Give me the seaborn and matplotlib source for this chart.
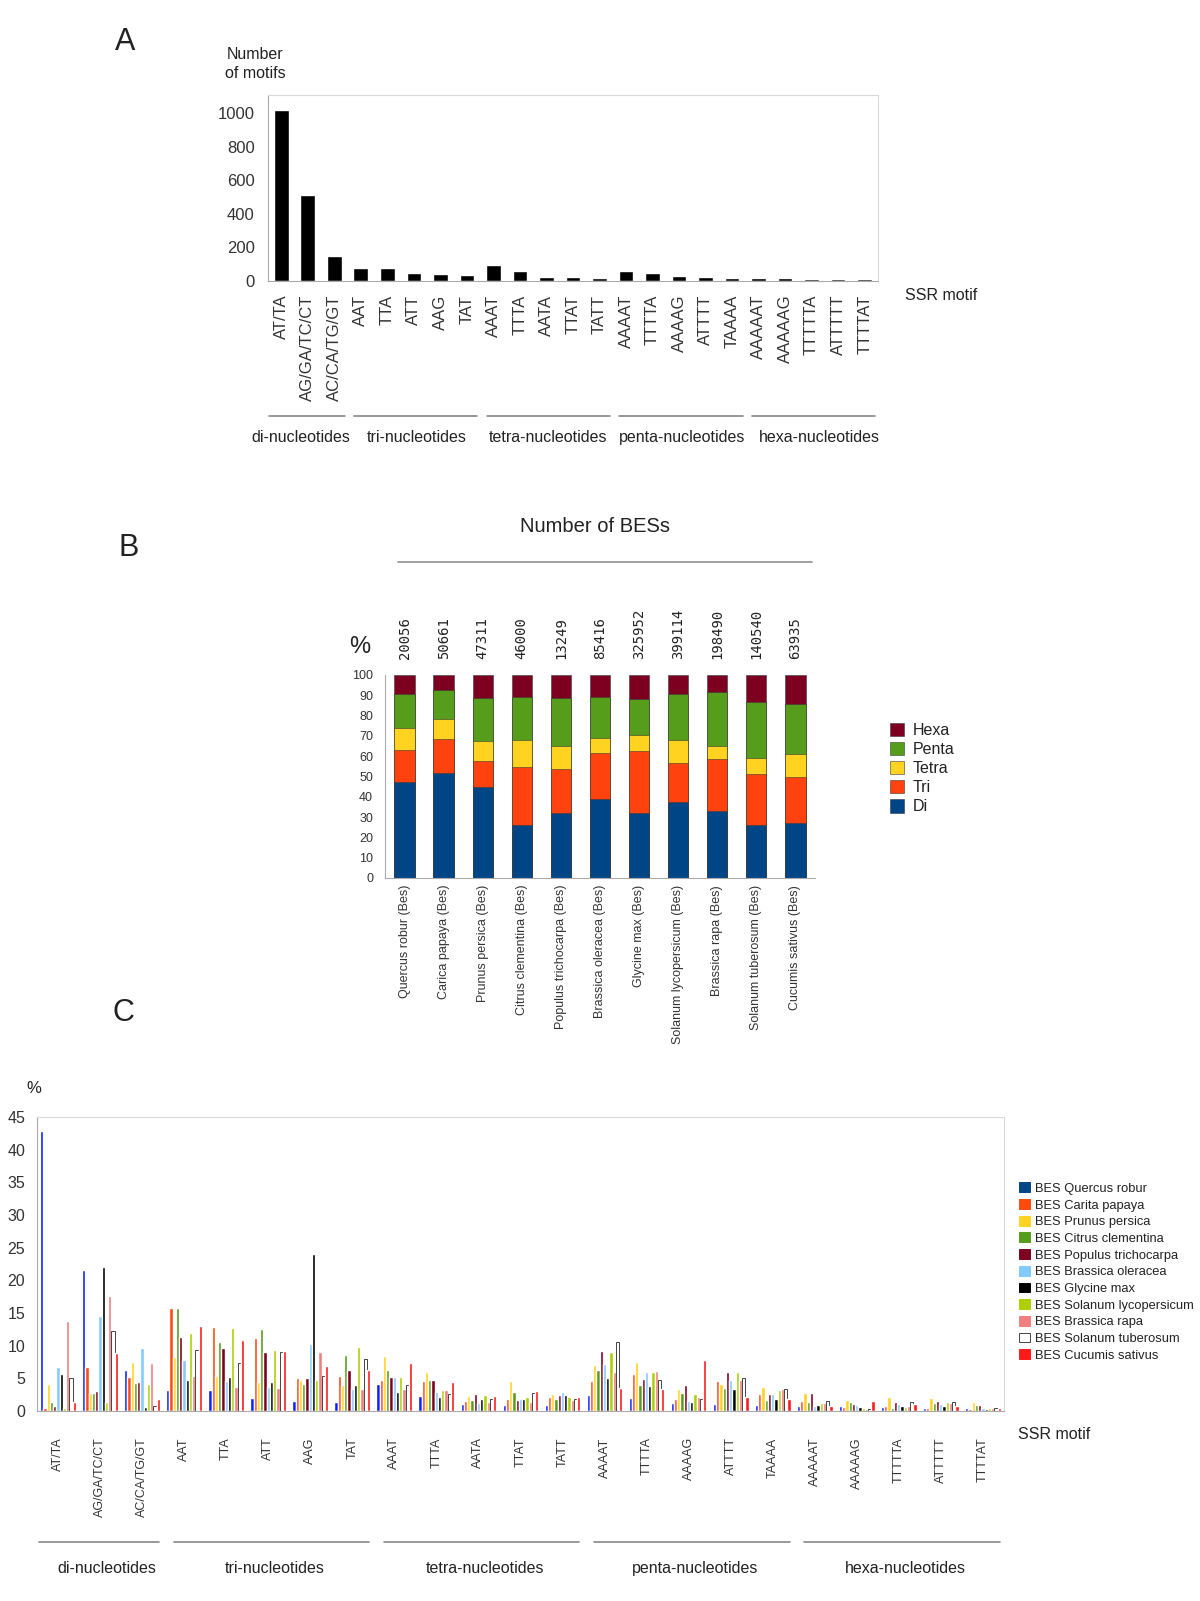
import matplotlib
matplotlib.use("Agg")
import matplotlib.pyplot as plt
import matplotlib.transforms as mtransforms
from matplotlib.patches import Patch
from matplotlib.lines import Line2D
import numpy as np
import pandas as pd
import seaborn as sns

# ---- data ----
motifs = ["AT/TA", "AG/GA/TC/CT", "AC/CA/TG/GT", "AAT", "TTA", "ATT", "AAG", "TAT",
          "AAAT", "TTTA", "AATA", "TTAT", "TATT", "AAAAT", "TTTTA", "AAAAG", "ATTTT",
          "TAAAA", "AAAAAT", "AAAAAG", "TTTTTA", "ATTTTT", "TTTTAT"]
n_motifs = [1016, 513, 148, 77, 75, 49, 39, 34, 97, 57, 24, 22, 20, 59, 49, 30, 24,
            20, 20, 18, 14, 10, 12]
group_names = ["di-nucleotides", "tri-nucleotides", "tetra-nucleotides",
               "penta-nucleotides", "hexa-nucleotides"]
group_sizes = [3, 5, 5, 5, 5]

species_b = ["Quercus robur (Bes)", "Carica papaya (Bes)", "Prunus persica (Bes)",
             "Citrus clementina (Bes)", "Populus trichocarpa (Bes)", "Brassica oleracea (Bes)",
             "Glycine max (Bes)", "Solanum lycopersicum (Bes)", "Brassica rapa (Bes)",
             "Solanum tuberosum (Bes)", "Cucumis sativus (Bes)"]
n_bes = [20056, 50661, 47311, 46000, 13249, 85416, 325952, 399114, 198490, 140540, 63935]
di = [47.2, 51.5, 44.8, 26.1, 31.8, 38.7, 32.1, 37.5, 33.1, 26.1, 26.9]
tri = [15.9, 17.0, 12.7, 28.7, 22.1, 22.9, 30.4, 19.1, 25.3, 25.2, 22.8]
tetra = [11.0, 9.9, 9.9, 13.1, 10.9, 7.3, 7.8, 11.3, 6.8, 7.7, 11.6]
penta = [16.6, 14.4, 21.1, 21.4, 24.1, 20.4, 17.9, 22.6, 26.6, 27.9, 24.6]
hexa = [9.3, 7.2, 11.5, 10.7, 11.1, 10.7, 11.8, 9.5, 8.2, 13.1, 14.1]
class_names = ["Di", "Tri", "Tetra", "Penta", "Hexa"]
class_colors = ["#004586", "#ff420e", "#ffd320", "#579d1c", "#7e0021"]

series_c = ["BES Quercus robur", "BES Carita papaya", "BES Prunus persica",
            "BES Citrus clementina", "BES Populus trichocarpa", "BES Brassica oleracea",
            "BES Glycine max", "BES Solanum lycopersicum", "BES Brassica rapa",
            "BES Solanum tuberosum", "BES Cucumis sativus"]
quercus = [42.8, 21.6, 6.2, 3.2, 3.2, 2.0, 1.5, 1.4, 4.1, 2.3, 1.0, 0.9, 0.9, 2.4, 2.0, 1.2, 1.0, 0.9, 0.8, 0.7, 0.6, 0.5, 0.5]
carica = [0.5, 6.7, 5.2, 15.8, 12.8, 11.1, 5.1, 5.4, 4.8, 4.6, 1.5, 1.8, 2.1, 4.6, 5.7, 1.9, 4.6, 2.6, 1.6, 0.6, 0.8, 0.5, 0.3]
prunus = [4.1, 2.7, 7.5, 8.2, 5.4, 4.5, 4.7, 4.0, 8.4, 6.0, 2.3, 4.6, 2.6, 7.1, 7.5, 3.3, 4.2, 3.6, 2.7, 1.7, 2.2, 2.0, 1.4]
citrus = [1.4, 2.7, 4.3, 15.8, 10.6, 12.5, 4.1, 8.5, 6.3, 4.8, 1.7, 2.9, 1.9, 6.2, 4.0, 2.8, 3.5, 1.7, 1.4, 1.4, 0.5, 1.2, 0.9]
populus = [0.8, 3.1, 4.5, 11.3, 9.6, 9.1, 5.0, 6.2, 5.2, 4.8, 2.6, 1.7, 2.4, 9.2, 4.9, 4.0, 6.0, 2.6, 2.8, 1.1, 1.3, 1.6, 0.9]
b_oleracea = [6.7, 14.5, 9.6, 7.8, 4.6, 3.7, 10.2, 3.4, 5.2, 2.9, 1.2, 1.9, 2.9, 7.2, 6.0, 1.6, 4.7, 2.6, 0.8, 0.9, 1.1, 1.0, 0.4]
glycine = [5.7, 22.0, 0.6, 4.7, 5.2, 4.4, 24.1, 4.0, 2.9, 2.1, 1.9, 1.9, 2.4, 5.1, 3.8, 1.4, 3.4, 1.9, 0.9, 0.6, 0.8, 0.7, 0.3]
s_lyco = [0.5, 1.4, 4.1, 11.9, 12.7, 9.4, 4.7, 9.8, 5.2, 3.2, 2.4, 2.2, 2.1, 9.0, 5.9, 2.6, 6.0, 3.2, 1.2, 0.5, 0.6, 1.4, 0.5]
b_rapa = [13.8, 17.6, 7.3, 5.4, 3.7, 3.5, 9.0, 3.4, 3.3, 3.2, 1.4, 1.4, 1.7, 6.0, 6.1, 2.2, 4.8, 3.3, 1.2, 0.3, 0.8, 1.2, 0.5]
s_tub = [5.1, 12.2, 0.8, 9.4, 7.3, 9.0, 5.4, 7.9, 4.0, 2.6, 1.9, 2.7, 1.8, 10.5, 4.8, 1.9, 5.1, 3.3, 1.6, 0.3, 1.4, 1.4, 0.5]
cucumis = [1.4, 8.9, 1.9, 13.0, 10.9, 9.2, 6.9, 6.3, 7.3, 4.4, 2.3, 3.1, 2.2, 3.5, 3.3, 7.8, 2.1, 1.9, 0.8, 1.6, 1.0, 0.8, 0.5]
bar_colors = ["#0a1fff", "#ff4a0e", "#ffd320", "#579d1c", "#7e0021", "#83caff",
              "#000000", "#aecf00", "#f08080", "#ffffff", "#ff1a1a"]
legend_colors = ["#004586"] + bar_colors[1:]

# ---- style ----
sns.set_style("white")
plt.rcParams["font.family"] = ["Liberation Sans", "DejaVu Sans"]
plt.rcParams["text.color"] = "#222222"
plt.rcParams["xtick.color"] = "#333333"
plt.rcParams["ytick.color"] = "#333333"

fig = plt.figure(figsize=(12, 16.01), dpi=100)
frame_col = "#d9d9d9"
axis_col = "#aaaaaa"


def group_marks(ax, y_line, y_text, fs, shift):
    tr = mtransforms.blended_transform_factory(ax.transData, fig.transFigure)
    start = 0
    for k, (name, size) in enumerate(zip(group_names, group_sizes)):
        end = start + size
        x0 = -0.45 if k == 0 else start - 0.25
        ax.add_line(Line2D([x0, end - 0.6], [y_line, y_line], transform=tr,
                           color="#888888", lw=1.2, clip_on=False))
        ax.text((start + end - 1) / 2 + shift[k], y_text, name, transform=tr,
                ha="center", va="center", fontsize=fs)
        start = end


def boundary_ticks(ax, n, length):
    ax.set_xticks(np.arange(-0.5, n, 1), minor=True)
    ax.tick_params(axis="x", which="minor", length=length, color=axis_col, width=1)
    ax.tick_params(axis="x", which="major", length=0)


# ---- panel A ----
axA = fig.add_axes([0.2233, 0.8245, 0.5083, 0.1162])
sns.barplot(x=motifs, y=n_motifs, color="black", width=0.55, saturation=1,
            errorbar=None, ax=axA)
axA.set_xlim(-0.5, len(motifs) - 0.5)
axA.set_ylim(0, 1107)
axA.set_yticks(range(0, 1001, 200))
axA.set_yticks(range(0, 1101, 100), minor=True)
axA.tick_params(axis="y", which="major", labelsize=12, length=6, color=axis_col)
axA.tick_params(axis="y", which="minor", length=4, color=axis_col)
axA.tick_params(axis="x", labelsize=12, rotation=90, pad=10)
boundary_ticks(axA, len(motifs), 7)
for s in axA.spines.values():
    s.set_color(frame_col)
axA.spines["left"].set_color(axis_col)
axA.spines["bottom"].set_color(axis_col)
axA.set_xlabel("")
axA.set_ylabel("")
group_marks(axA, 0.7402, 0.727, 11.5, [-0.25, 0.1, 0.05, 0.1, 0.3])
fig.text(0.104, 0.974, "A", fontsize=22, ha="center", va="center")
fig.text(0.2125, 0.960, "Number\nof motifs", fontsize=11.5, ha="center", va="center",
         linespacing=1.4)
fig.text(0.754, 0.8157, "SSR motif", fontsize=11.5, ha="left", va="center")

# ---- panel B ----
axB = fig.add_axes([0.3208, 0.4516, 0.3583, 0.1268])
layers = [di, tri, tetra, penta, hexa]
cum = np.cumsum(np.array(layers), axis=0)
for k in range(len(layers) - 1, -1, -1):
    sns.barplot(x=species_b, y=cum[k], color=class_colors[k], width=0.52, saturation=1,
                edgecolor="#3a3a3a", linewidth=0.4, errorbar=None, ax=axB)
axB.set_xlim(-0.5, len(species_b) - 0.5)
axB.set_ylim(0, 100)
axB.set_yticks(range(0, 101, 10))
axB.tick_params(axis="y", labelsize=9, length=5, color=axis_col)
axB.tick_params(axis="x", labelsize=9, rotation=90, pad=5)
boundary_ticks(axB, len(species_b), 6)
sns.despine(ax=axB)
axB.spines["left"].set_color(axis_col)
axB.spines["bottom"].set_color(axis_col)
axB.set_xlabel("")
axB.set_ylabel("")
for i, n in enumerate(n_bes):
    axB.text(i, 108, str(n), rotation=90, ha="center", va="bottom", fontsize=10,
             family="DejaVu Sans Mono", clip_on=False)
fig.text(0.107, 0.658, "B", fontsize=22, ha="center", va="center")
fig.text(0.30, 0.596, "%", fontsize=17, ha="center", va="center")
fig.text(0.496, 0.671, "Number of BESs", fontsize=14.5, ha="center", va="center")
fig.add_artist(Line2D([0.332, 0.677], [0.649, 0.649], transform=fig.transFigure,
                      color="#999999", lw=1.3))
handles_b = [Patch(facecolor=class_colors[k], edgecolor="#3a3a3a", linewidth=0.4,
                   label=class_names[k]) for k in range(4, -1, -1)]
fig.legend(handles=handles_b, loc="upper left", bbox_to_anchor=(0.735, 0.5535),
           frameon=False, fontsize=11.5, handlelength=0.9, handleheight=0.9,
           handletextpad=0.5, labelspacing=0.25, borderpad=0)

# ---- panel C ----
axC = fig.add_axes([0.0308, 0.1187, 0.8058, 0.1836])
series_values = [quercus, carica, prunus, citrus, populus, b_oleracea, glycine,
                 s_lyco, b_rapa, s_tub, cucumis]
dfc = pd.DataFrame({
    "motif": motifs * len(series_c),
    "series": [s for s in series_c for _ in motifs],
    "value": [v for vals in series_values for v in vals],
})
sns.barplot(data=dfc, x="motif", y="value", hue="series", hue_order=series_c,
            palette=bar_colors, width=0.85, saturation=1, errorbar=None,
            legend=False, ax=axC)
for bar in axC.containers[9]:
    bar.set_edgecolor("#444444")
    bar.set_linewidth(0.7)
axC.set_xlim(-0.5, len(motifs) - 0.5)
axC.set_ylim(0, 45)
axC.set_yticks(range(0, 46, 5))
axC.tick_params(axis="y", labelsize=11.5, length=5, color=axis_col)
axC.tick_params(axis="x", labelsize=9, rotation=90, pad=19)
boundary_ticks(axC, len(motifs), 6)
for s in axC.spines.values():
    s.set_color(frame_col)
axC.spines["left"].set_color(axis_col)
axC.spines["bottom"].set_color(axis_col)
axC.set_xlabel("")
axC.set_ylabel("")
group_marks(axC, 0.0368, 0.0206, 11.5, [0.15, 0.15, 0.15, 0.15, 0.15])
fig.text(0.1025, 0.367, "C", fontsize=22, ha="center", va="center")
fig.text(0.028, 0.320, "%", fontsize=12, ha="center", va="center")
fig.text(0.848, 0.1043, "SSR motif", fontsize=11.5, ha="left", va="center")
handles_c = [Patch(facecolor=legend_colors[k],
                   edgecolor="#444444" if legend_colors[k] == "#ffffff" else legend_colors[k],
                   linewidth=0.7, label=series_c[k]) for k in range(len(series_c))]
fig.legend(handles=handles_c, loc="upper left", bbox_to_anchor=(0.844, 0.2655),
           frameon=False, fontsize=9.3, handlelength=0.8, handleheight=0.8,
           handletextpad=0.4, labelspacing=0.33, borderpad=0)

fig.savefig("out.png", dpi=100)
